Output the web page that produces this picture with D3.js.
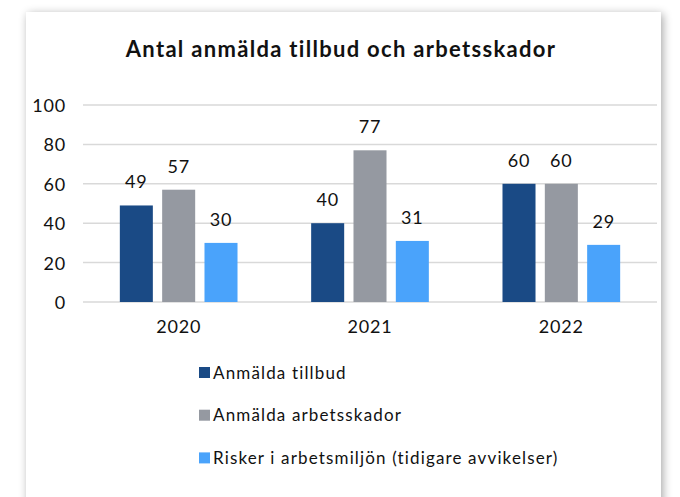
<!DOCTYPE html>
<html>
<head>
<meta charset="utf-8">
<script src="https://cdn.jsdelivr.net/npm/d3@7"></script>
<style>
  html, body { margin: 0; padding: 0; background: #ffffff; }
  svg { display: block; }
  text { font-family: "Lato", "Noto Sans", sans-serif; fill: #111; }
</style>
</head>
<body>
<script>
const title = "Antal anmälda tillbud och arbetsskador";
const years = ["2020", "2021", "2022"];
const seriesNames = ["Anmälda tillbud", "Anmälda arbetsskador", "Risker i arbetsmiljön (tidigare avvikelser)"];
const tillbud = [49, 40, 60];
const arbetsskador = [57, 77, 60];
const risker = [30, 31, 29];
const yTicks = [0, 20, 40, 60, 80, 100];
const colors = ["#1A4A85", "#9599A1", "#4AA3FB"];

const seriesValues = [tillbud, arbetsskador, risker];
const W = 680, H = 497;

const svg = d3.select("body").append("svg").attr("width", W).attr("height", H);

const defs = svg.append("defs");
const f = defs.append("filter").attr("id", "shadow").attr("x", "-10%").attr("y", "-10%").attr("width", "120%").attr("height", "120%");
f.append("feGaussianBlur").attr("in", "SourceAlpha").attr("stdDeviation", 5);
f.append("feOffset").attr("dx", 2).attr("dy", 2).attr("result", "b");
f.append("feComponentTransfer").append("feFuncA").attr("type", "linear").attr("slope", 0.35);
const m = f.append("feMerge");
m.append("feMergeNode");
m.append("feMergeNode").attr("in", "SourceGraphic");

svg.append("rect").attr("x", 26).attr("y", 12).attr("width", 635).attr("height", 520)
  .attr("fill", "#fff").attr("filter", "url(#shadow)");

svg.append("text").attr("x", 341).attr("y", 57).attr("text-anchor", "middle")
  .style("font-size", "22px").style("font-weight", "bold").style("letter-spacing", "1.3px")
  .text(title);

const x0 = d3.scaleBand().domain(years).range([83, 657]).padding(0);
const x1 = d3.scaleBand().domain(d3.range(3)).range([0, x0.bandwidth()]).paddingInner(0.22).paddingOuter(0.87);
const y = d3.scaleLinear().domain([0, 100]).range([302, 105]);

// gridlines
svg.append("g").selectAll("line").data(yTicks).join("line")
  .attr("x1", 83).attr("x2", 657)
  .attr("y1", d => y(d)).attr("y2", d => y(d))
  .attr("stroke", "#d9d9d9").attr("stroke-width", 1.5);

// y axis labels
const yAxis = d3.axisLeft(y).tickValues(yTicks).tickSize(0).tickPadding(0);
const yg = svg.append("g").attr("transform", "translate(66,0)").call(yAxis);
yg.select(".domain").remove();
yg.selectAll("text").style("font-size", "18px").style("letter-spacing", "0.8px")
  .attr("fill", "#111").attr("dy", "0.36em");

// x axis labels
const xAxis = d3.axisBottom(x0).tickSize(0).tickPadding(0);
const xg = svg.append("g").attr("transform", "translate(0,320)").call(xAxis);
xg.select(".domain").remove();
xg.selectAll("text").style("font-size", "18px").style("letter-spacing", "0.8px")
  .attr("fill", "#111").attr("dy", "0.74em");

// bars
const groups = svg.append("g").selectAll("g").data(years).join("g")
  .attr("transform", d => `translate(${x0(d)},0)`);

groups.each(function(yr, i) {
  const g = d3.select(this);
  const data = seriesValues.map((vals, s) => ({ s, v: vals[i] }));
  g.selectAll("rect").data(data).join("rect")
    .attr("x", d => x1(d.s)).attr("width", x1.bandwidth())
    .attr("y", d => y(d.v)).attr("height", d => y(0) - y(d.v))
    .attr("fill", d => colors[d.s]);
  g.selectAll("text.lbl").data(data).join("text").attr("class", "lbl")
    .attr("x", d => x1(d.s) + x1.bandwidth() / 2)
    .attr("y", d => y(d.v) - 17)
    .attr("text-anchor", "middle")
    .style("font-size", "18px").style("letter-spacing", "0.8px")
    .text(d => d.v);
});

// legend
const legend = svg.append("g").selectAll("g").data(seriesNames).join("g")
  .attr("transform", (d, i) => `translate(199,${372.5 + i * 42.7})`);
legend.append("rect").attr("x", 0).attr("y", -5.5).attr("width", 11).attr("height", 11)
  .attr("fill", (d, i) => colors[i]);
legend.append("text").attr("x", 14).attr("y", 0).attr("dy", "0.36em")
  .style("font-size", "17px").style("letter-spacing", "1.15px").text(d => d);
</script>
</body>
</html>
